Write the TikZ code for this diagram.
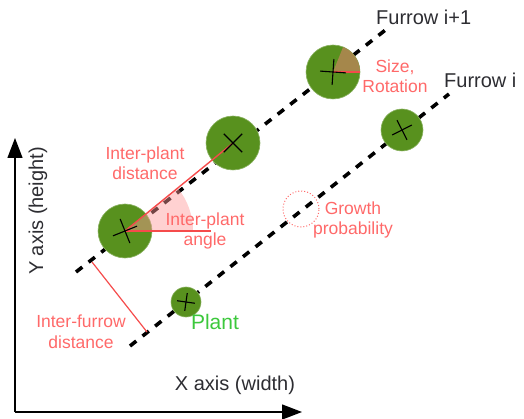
\documentclass[tikz,border=0pt]{standalone}
\usepackage{fontspec}
\setmainfont{Liberation Sans}
\usetikzlibrary{arrows.meta}
\definecolor{plantgreen}{RGB}{88,145,30}
\definecolor{txtred}{RGB}{255,105,105}
\definecolor{linered}{RGB}{245,75,75}
\definecolor{txtdark}{RGB}{45,45,50}
\definecolor{sizebrown}{RGB}{165,135,75}
\definecolor{plantgreentext}{RGB}{60,200,60}
\tikzset{
  furrow/.style={line width=3.6pt, dash pattern=on 8pt off 8pt, black},
  plant/.style={circle, fill=plantgreen, draw=plantgreen!70!white, line width=0.6pt, inner sep=0pt, minimum size=#1},
  crossline/.style={black, line width=1.1pt},
  measure/.style={linered, line width=1.4pt},
  redlabel/.style={txtred, font=\fontsize{17.5}{20.5}\selectfont, align=center, inner sep=0pt},
  darklabel/.style={txtdark, font=\fontsize{20}{23}\selectfont, inner sep=0pt},
  axis/.style={black, line width=1.3pt, -{Triangle[length=20pt,width=15pt]}}
}
\newcommand{\plantX}[3]{% node, visual angle, half length
  \draw[crossline] ([shift={(-#2:#3)}]#1.center) -- ([shift={(180-#2:#3)}]#1.center);
  \draw[crossline] ([shift={(-#2+90:#3)}]#1.center) -- ([shift={(-#2-90:#3)}]#1.center);
}
\begin{document}
\begin{tikzpicture}[x=1pt,y=-1pt]
\useasboundingbox (0,0) rectangle (524,419);
% axes
\coordinate (origin) at (15,412);
\coordinate (ytip) at (15,138);
\coordinate (xtip) at (302,412);
\draw[axis] (origin) -- (ytip);
\draw[axis] (origin) -- (xtip);
\node[darklabel, rotate=90] (ylab) at (38,211) {Y axis (height)};
\node[darklabel] (xlab) at (235,385) {X axis (width)};
% furrows
\coordinate (f1a) at (76,272);
\coordinate (f1b) at (388,28);
\coordinate (f0a) at (130,346);
\coordinate (f0b) at (449,94);
\draw[furrow] (f1a) -- (f1b);
\draw[furrow] (f0a) -- (f0b);
\node[darklabel, anchor=west] (lf1) at (376,17) {Furrow i+1};
\node[darklabel, anchor=west] (lf0) at (444,80) {Furrow i};
% plants
\node[plant=54pt] (p1) at (125,231) {};
\node[plant=54pt] (p2) at (233,143) {};
\node[plant=54pt] (p3) at (333,72) {};
\node[plant=42pt] (p4) at (402,130) {};
\node[plant=30pt] (p5) at (186,302) {};
% size wedge
\fill[sizebrown] (p3.center) -- ++(0:27) arc[start angle=0, end angle=-68, radius=27] -- cycle;
\draw[measure] (p3.center) -- ++(27,0) coordinate (p3r);
% inter-plant angle sector
\fill[red!40!white, opacity=0.45] (p1.center) -- ++(0:68) arc[start angle=0, end angle=-39.5, radius=68] -- cycle;
\draw[measure] (p1.center) -- (p2.center);
\coordinate (angend) at (211,231);
\draw[measure] (p1.center) -- (angend);
% inter-furrow distance
\coordinate (ifa) at (92,262);
\coordinate (ifb) at (147,332);
\draw[measure, line width=1.2pt] (ifa) -- (ifb);
% growth probability
\node[circle, draw=txtred, dotted, line width=1pt, minimum size=36pt, inner sep=0pt] (gp) at (301,209) {};
% crosses
\plantX{p1}{22}{13}
\plantX{p2}{45}{13}
\plantX{p3}{-4}{13}
\plantX{p4}{27}{11}
\plantX{p5}{-8}{9}
% labels
\node[redlabel] (lsize) at (395,76) {Size,\\Rotation};
\node[redlabel] (lipd) at (145,163) {Inter-plant\\distance};
\node[redlabel] (lipa) at (205,231) {Inter-plant\\angle};
\node[redlabel] (lgp) at (353,220) {Growth\\probability};
\node[redlabel] (lifd) at (81,332) {Inter-furrow\\distance};
\node[font=\fontsize{21}{24}\selectfont, text=plantgreentext, inner sep=0pt] (lplant) at (215,322) {Plant};
\end{tikzpicture}
\end{document}
